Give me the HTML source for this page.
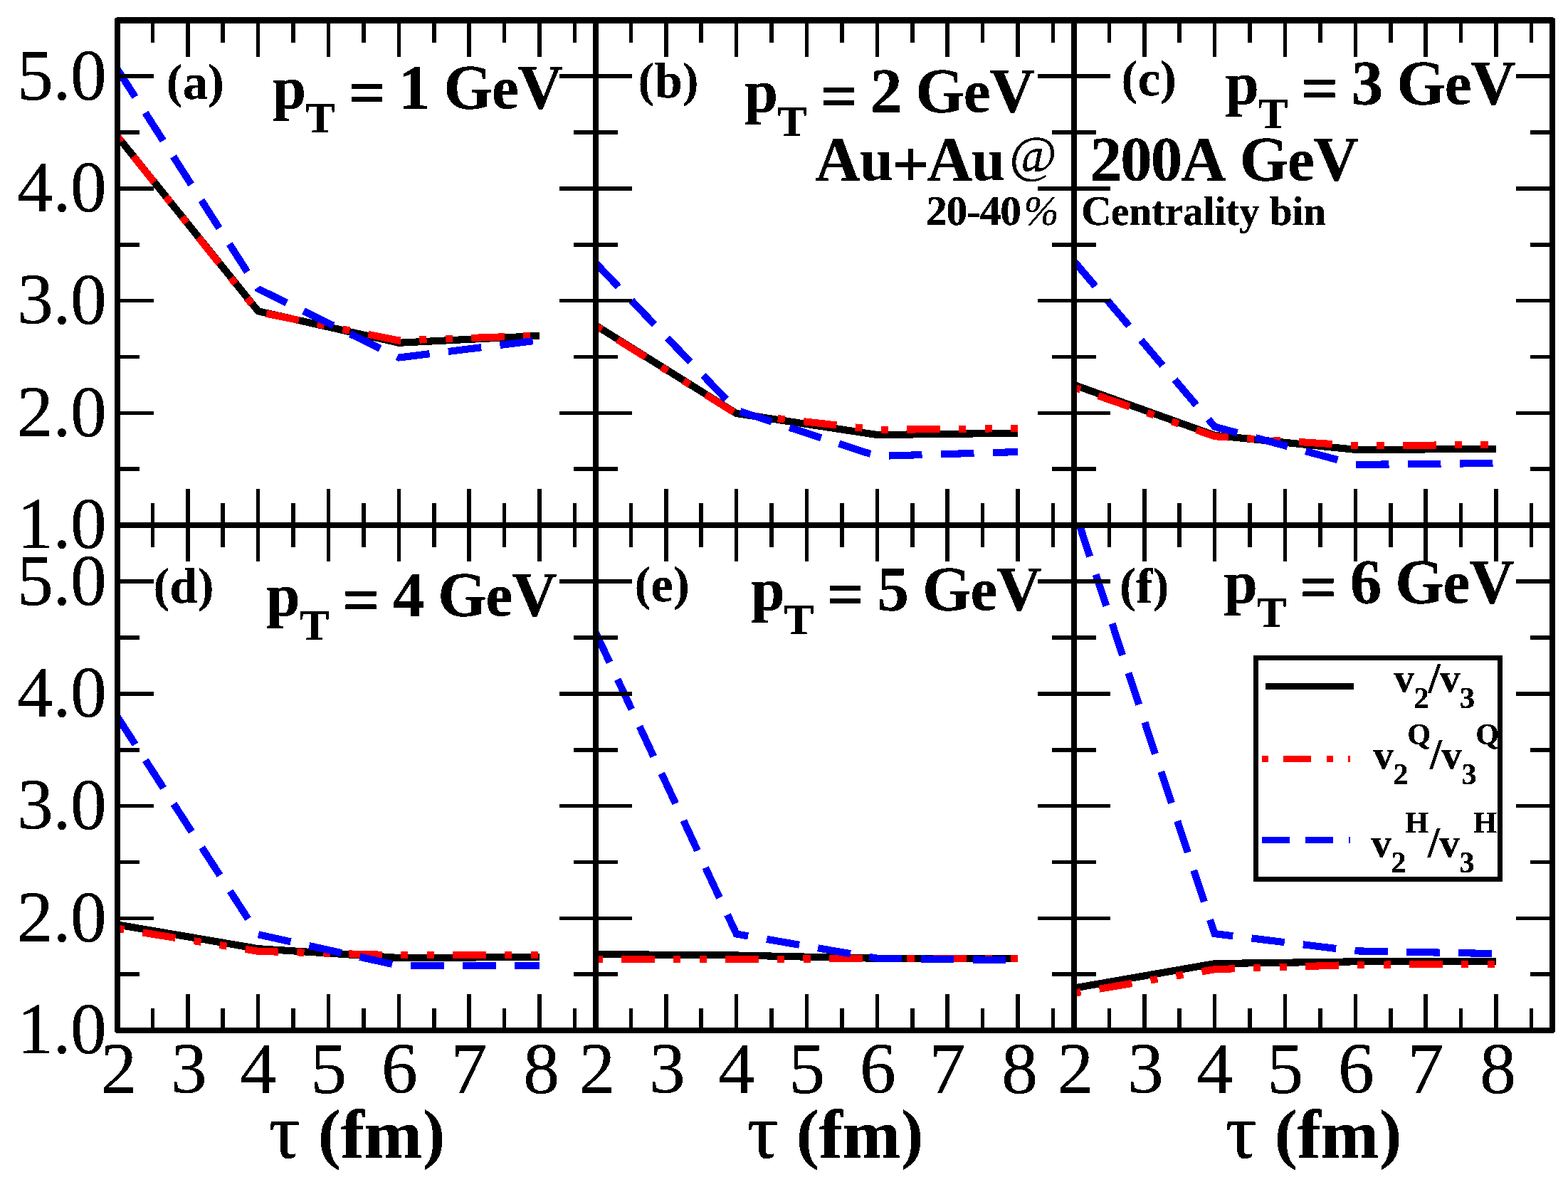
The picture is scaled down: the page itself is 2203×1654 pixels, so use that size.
<!DOCTYPE html>
<html lang="en"><head><meta charset="utf-8"><title>v2/v3 versus tau, Au+Au 200A GeV</title>
<style>html,body{margin:0;padding:0;background:#fff;}body{width:2203px;height:1654px;overflow:hidden;}svg{display:block;}line,polyline,rect{shape-rendering:crispEdges;}text{font-family:'Liberation Serif', 'DejaVu Serif', serif;fill:#000;white-space:pre;font-kerning:none;}</style>
</head><body>
<svg xmlns="http://www.w3.org/2000/svg" width="2203" height="1654" viewBox="0 0 2203 1654">
<rect x="0" y="0" width="2203" height="1654" fill="#fff"/>
<defs><filter id="crisp" filterUnits="userSpaceOnUse" x="0" y="0" width="2203" height="1654" color-interpolation-filters="sRGB"><feComponentTransfer><feFuncA type="discrete" tableValues="0 0 1 1 1 1 1 1"/></feComponentTransfer></filter></defs>
<g id="data-a" fill="none" stroke-linejoin="miter" stroke-linecap="butt" stroke-width="10.125">
<polyline points="165.00,191.57 362.66,437.27 560.32,481.74 757.98,471.96" stroke="#000000"/>
<polyline points="165.00,191.57 362.66,438.37 560.32,478.58 757.98,471.49" stroke="#ff0000" stroke-dasharray="10.125 26.375 46.625 26.375 10.125 26.375" stroke-dashoffset="0.5"/>
<polyline points="165.00,97.42 362.66,405.88 560.32,502.55 757.98,478.11" stroke="#0000ff" stroke-dasharray="46.625 26.375" stroke-dashoffset="0.5"/>
</g>
<g id="ticks-a" stroke-linecap="butt">
<line x1="214.41" y1="738.00" x2="214.41" y2="707.00" stroke="#000" stroke-width="5.55" />
<line x1="214.41" y1="28.50" x2="214.41" y2="59.50" stroke="#000" stroke-width="5.55" />
<line x1="263.83" y1="738.00" x2="263.83" y2="687.00" stroke="#000" stroke-width="5.55" />
<line x1="263.83" y1="28.50" x2="263.83" y2="79.50" stroke="#000" stroke-width="5.55" />
<line x1="313.25" y1="738.00" x2="313.25" y2="707.00" stroke="#000" stroke-width="5.55" />
<line x1="313.25" y1="28.50" x2="313.25" y2="59.50" stroke="#000" stroke-width="5.55" />
<line x1="362.66" y1="738.00" x2="362.66" y2="687.00" stroke="#000" stroke-width="5.55" />
<line x1="362.66" y1="28.50" x2="362.66" y2="79.50" stroke="#000" stroke-width="5.55" />
<line x1="412.07" y1="738.00" x2="412.07" y2="707.00" stroke="#000" stroke-width="5.55" />
<line x1="412.07" y1="28.50" x2="412.07" y2="59.50" stroke="#000" stroke-width="5.55" />
<line x1="461.49" y1="738.00" x2="461.49" y2="687.00" stroke="#000" stroke-width="5.55" />
<line x1="461.49" y1="28.50" x2="461.49" y2="79.50" stroke="#000" stroke-width="5.55" />
<line x1="510.90" y1="738.00" x2="510.90" y2="707.00" stroke="#000" stroke-width="5.55" />
<line x1="510.90" y1="28.50" x2="510.90" y2="59.50" stroke="#000" stroke-width="5.55" />
<line x1="560.32" y1="738.00" x2="560.32" y2="687.00" stroke="#000" stroke-width="5.55" />
<line x1="560.32" y1="28.50" x2="560.32" y2="79.50" stroke="#000" stroke-width="5.55" />
<line x1="609.74" y1="738.00" x2="609.74" y2="707.00" stroke="#000" stroke-width="5.55" />
<line x1="609.74" y1="28.50" x2="609.74" y2="59.50" stroke="#000" stroke-width="5.55" />
<line x1="659.15" y1="738.00" x2="659.15" y2="687.00" stroke="#000" stroke-width="5.55" />
<line x1="659.15" y1="28.50" x2="659.15" y2="79.50" stroke="#000" stroke-width="5.55" />
<line x1="708.56" y1="738.00" x2="708.56" y2="707.00" stroke="#000" stroke-width="5.55" />
<line x1="708.56" y1="28.50" x2="708.56" y2="59.50" stroke="#000" stroke-width="5.55" />
<line x1="757.98" y1="738.00" x2="757.98" y2="687.00" stroke="#000" stroke-width="5.55" />
<line x1="757.98" y1="28.50" x2="757.98" y2="79.50" stroke="#000" stroke-width="5.55" />
<line x1="807.39" y1="738.00" x2="807.39" y2="707.00" stroke="#000" stroke-width="5.55" />
<line x1="807.39" y1="28.50" x2="807.39" y2="59.50" stroke="#000" stroke-width="5.55" />
<line x1="165.00" y1="659.15" x2="196.00" y2="659.15" stroke="#000" stroke-width="5.55" />
<line x1="837.00" y1="659.15" x2="806.00" y2="659.15" stroke="#000" stroke-width="5.55" />
<line x1="165.00" y1="580.30" x2="216.00" y2="580.30" stroke="#000" stroke-width="5.55" />
<line x1="837.00" y1="580.30" x2="786.00" y2="580.30" stroke="#000" stroke-width="5.55" />
<line x1="165.00" y1="501.45" x2="196.00" y2="501.45" stroke="#000" stroke-width="5.55" />
<line x1="837.00" y1="501.45" x2="806.00" y2="501.45" stroke="#000" stroke-width="5.55" />
<line x1="165.00" y1="422.60" x2="216.00" y2="422.60" stroke="#000" stroke-width="5.55" />
<line x1="837.00" y1="422.60" x2="786.00" y2="422.60" stroke="#000" stroke-width="5.55" />
<line x1="165.00" y1="343.75" x2="196.00" y2="343.75" stroke="#000" stroke-width="5.55" />
<line x1="837.00" y1="343.75" x2="806.00" y2="343.75" stroke="#000" stroke-width="5.55" />
<line x1="165.00" y1="264.90" x2="216.00" y2="264.90" stroke="#000" stroke-width="5.55" />
<line x1="837.00" y1="264.90" x2="786.00" y2="264.90" stroke="#000" stroke-width="5.55" />
<line x1="165.00" y1="186.05" x2="196.00" y2="186.05" stroke="#000" stroke-width="5.55" />
<line x1="837.00" y1="186.05" x2="806.00" y2="186.05" stroke="#000" stroke-width="5.55" />
<line x1="165.00" y1="107.20" x2="216.00" y2="107.20" stroke="#000" stroke-width="5.55" />
<line x1="837.00" y1="107.20" x2="786.00" y2="107.20" stroke="#000" stroke-width="5.55" />
</g>
<g id="data-b" fill="none" stroke-linejoin="miter" stroke-linecap="butt" stroke-width="10.125">
<polyline points="837.00,457.29 1034.66,580.99 1232.32,611.05 1429.98,608.69" stroke="#000000"/>
<polyline points="837.00,458.16 1034.66,581.56 1232.32,603.95 1429.98,602.06" stroke="#ff0000" stroke-dasharray="10.125 26.375 46.625 26.375 10.125 26.375" stroke-dashoffset="0.5"/>
<polyline points="837.00,369.77 1034.66,576.40 1232.32,641.01 1429.98,635.02" stroke="#0000ff" stroke-dasharray="46.625 26.375" stroke-dashoffset="0.5"/>
</g>
<g id="ticks-b" stroke-linecap="butt">
<line x1="886.41" y1="738.00" x2="886.41" y2="707.00" stroke="#000" stroke-width="5.55" />
<line x1="886.41" y1="28.50" x2="886.41" y2="59.50" stroke="#000" stroke-width="5.55" />
<line x1="935.83" y1="738.00" x2="935.83" y2="687.00" stroke="#000" stroke-width="5.55" />
<line x1="935.83" y1="28.50" x2="935.83" y2="79.50" stroke="#000" stroke-width="5.55" />
<line x1="985.25" y1="738.00" x2="985.25" y2="707.00" stroke="#000" stroke-width="5.55" />
<line x1="985.25" y1="28.50" x2="985.25" y2="59.50" stroke="#000" stroke-width="5.55" />
<line x1="1034.66" y1="738.00" x2="1034.66" y2="687.00" stroke="#000" stroke-width="5.55" />
<line x1="1034.66" y1="28.50" x2="1034.66" y2="79.50" stroke="#000" stroke-width="5.55" />
<line x1="1084.08" y1="738.00" x2="1084.08" y2="707.00" stroke="#000" stroke-width="5.55" />
<line x1="1084.08" y1="28.50" x2="1084.08" y2="59.50" stroke="#000" stroke-width="5.55" />
<line x1="1133.49" y1="738.00" x2="1133.49" y2="687.00" stroke="#000" stroke-width="5.55" />
<line x1="1133.49" y1="28.50" x2="1133.49" y2="79.50" stroke="#000" stroke-width="5.55" />
<line x1="1182.90" y1="738.00" x2="1182.90" y2="707.00" stroke="#000" stroke-width="5.55" />
<line x1="1182.90" y1="28.50" x2="1182.90" y2="59.50" stroke="#000" stroke-width="5.55" />
<line x1="1232.32" y1="738.00" x2="1232.32" y2="687.00" stroke="#000" stroke-width="5.55" />
<line x1="1232.32" y1="28.50" x2="1232.32" y2="79.50" stroke="#000" stroke-width="5.55" />
<line x1="1281.74" y1="738.00" x2="1281.74" y2="707.00" stroke="#000" stroke-width="5.55" />
<line x1="1281.74" y1="28.50" x2="1281.74" y2="59.50" stroke="#000" stroke-width="5.55" />
<line x1="1331.15" y1="738.00" x2="1331.15" y2="687.00" stroke="#000" stroke-width="5.55" />
<line x1="1331.15" y1="28.50" x2="1331.15" y2="79.50" stroke="#000" stroke-width="5.55" />
<line x1="1380.57" y1="738.00" x2="1380.57" y2="707.00" stroke="#000" stroke-width="5.55" />
<line x1="1380.57" y1="28.50" x2="1380.57" y2="59.50" stroke="#000" stroke-width="5.55" />
<line x1="1429.98" y1="738.00" x2="1429.98" y2="687.00" stroke="#000" stroke-width="5.55" />
<line x1="1429.98" y1="28.50" x2="1429.98" y2="79.50" stroke="#000" stroke-width="5.55" />
<line x1="1479.39" y1="738.00" x2="1479.39" y2="707.00" stroke="#000" stroke-width="5.55" />
<line x1="1479.39" y1="28.50" x2="1479.39" y2="59.50" stroke="#000" stroke-width="5.55" />
<line x1="837.00" y1="659.15" x2="868.00" y2="659.15" stroke="#000" stroke-width="5.55" />
<line x1="1509.00" y1="659.15" x2="1478.00" y2="659.15" stroke="#000" stroke-width="5.55" />
<line x1="837.00" y1="580.30" x2="888.00" y2="580.30" stroke="#000" stroke-width="5.55" />
<line x1="1509.00" y1="580.30" x2="1458.00" y2="580.30" stroke="#000" stroke-width="5.55" />
<line x1="837.00" y1="501.45" x2="868.00" y2="501.45" stroke="#000" stroke-width="5.55" />
<line x1="1509.00" y1="501.45" x2="1478.00" y2="501.45" stroke="#000" stroke-width="5.55" />
<line x1="837.00" y1="422.60" x2="888.00" y2="422.60" stroke="#000" stroke-width="5.55" />
<line x1="1509.00" y1="422.60" x2="1458.00" y2="422.60" stroke="#000" stroke-width="5.55" />
<line x1="837.00" y1="343.75" x2="868.00" y2="343.75" stroke="#000" stroke-width="5.55" />
<line x1="1509.00" y1="343.75" x2="1478.00" y2="343.75" stroke="#000" stroke-width="5.55" />
<line x1="837.00" y1="264.90" x2="888.00" y2="264.90" stroke="#000" stroke-width="5.55" />
<line x1="1509.00" y1="264.90" x2="1458.00" y2="264.90" stroke="#000" stroke-width="5.55" />
<line x1="837.00" y1="186.05" x2="868.00" y2="186.05" stroke="#000" stroke-width="5.55" />
<line x1="1509.00" y1="186.05" x2="1478.00" y2="186.05" stroke="#000" stroke-width="5.55" />
<line x1="837.00" y1="107.20" x2="888.00" y2="107.20" stroke="#000" stroke-width="5.55" />
<line x1="1509.00" y1="107.20" x2="1458.00" y2="107.20" stroke="#000" stroke-width="5.55" />
</g>
<g id="data-c" fill="none" stroke-linejoin="miter" stroke-linecap="butt" stroke-width="10.125">
<polyline points="1509.00,540.88 1706.66,611.84 1904.32,631.87 2101.98,631.00" stroke="#000000"/>
<polyline points="1509.00,544.34 1706.66,613.20 1904.32,626.19 2101.98,625.09" stroke="#ff0000" stroke-dasharray="10.125 26.375 46.625 26.375 10.125 26.375" stroke-dashoffset="0.5"/>
<polyline points="1509.00,367.09 1706.66,599.70 1904.32,652.91 2101.98,651.00" stroke="#0000ff" stroke-dasharray="46.625 26.375" stroke-dashoffset="0.5"/>
</g>
<g id="ticks-c" stroke-linecap="butt">
<line x1="1558.41" y1="738.00" x2="1558.41" y2="707.00" stroke="#000" stroke-width="5.55" />
<line x1="1558.41" y1="28.50" x2="1558.41" y2="59.50" stroke="#000" stroke-width="5.55" />
<line x1="1607.83" y1="738.00" x2="1607.83" y2="687.00" stroke="#000" stroke-width="5.55" />
<line x1="1607.83" y1="28.50" x2="1607.83" y2="79.50" stroke="#000" stroke-width="5.55" />
<line x1="1657.24" y1="738.00" x2="1657.24" y2="707.00" stroke="#000" stroke-width="5.55" />
<line x1="1657.24" y1="28.50" x2="1657.24" y2="59.50" stroke="#000" stroke-width="5.55" />
<line x1="1706.66" y1="738.00" x2="1706.66" y2="687.00" stroke="#000" stroke-width="5.55" />
<line x1="1706.66" y1="28.50" x2="1706.66" y2="79.50" stroke="#000" stroke-width="5.55" />
<line x1="1756.08" y1="738.00" x2="1756.08" y2="707.00" stroke="#000" stroke-width="5.55" />
<line x1="1756.08" y1="28.50" x2="1756.08" y2="59.50" stroke="#000" stroke-width="5.55" />
<line x1="1805.49" y1="738.00" x2="1805.49" y2="687.00" stroke="#000" stroke-width="5.55" />
<line x1="1805.49" y1="28.50" x2="1805.49" y2="79.50" stroke="#000" stroke-width="5.55" />
<line x1="1854.90" y1="738.00" x2="1854.90" y2="707.00" stroke="#000" stroke-width="5.55" />
<line x1="1854.90" y1="28.50" x2="1854.90" y2="59.50" stroke="#000" stroke-width="5.55" />
<line x1="1904.32" y1="738.00" x2="1904.32" y2="687.00" stroke="#000" stroke-width="5.55" />
<line x1="1904.32" y1="28.50" x2="1904.32" y2="79.50" stroke="#000" stroke-width="5.55" />
<line x1="1953.74" y1="738.00" x2="1953.74" y2="707.00" stroke="#000" stroke-width="5.55" />
<line x1="1953.74" y1="28.50" x2="1953.74" y2="59.50" stroke="#000" stroke-width="5.55" />
<line x1="2003.15" y1="738.00" x2="2003.15" y2="687.00" stroke="#000" stroke-width="5.55" />
<line x1="2003.15" y1="28.50" x2="2003.15" y2="79.50" stroke="#000" stroke-width="5.55" />
<line x1="2052.57" y1="738.00" x2="2052.57" y2="707.00" stroke="#000" stroke-width="5.55" />
<line x1="2052.57" y1="28.50" x2="2052.57" y2="59.50" stroke="#000" stroke-width="5.55" />
<line x1="2101.98" y1="738.00" x2="2101.98" y2="687.00" stroke="#000" stroke-width="5.55" />
<line x1="2101.98" y1="28.50" x2="2101.98" y2="79.50" stroke="#000" stroke-width="5.55" />
<line x1="2151.39" y1="738.00" x2="2151.39" y2="707.00" stroke="#000" stroke-width="5.55" />
<line x1="2151.39" y1="28.50" x2="2151.39" y2="59.50" stroke="#000" stroke-width="5.55" />
<line x1="1509.00" y1="659.15" x2="1540.00" y2="659.15" stroke="#000" stroke-width="5.55" />
<line x1="2181.00" y1="659.15" x2="2150.00" y2="659.15" stroke="#000" stroke-width="5.55" />
<line x1="1509.00" y1="580.30" x2="1560.00" y2="580.30" stroke="#000" stroke-width="5.55" />
<line x1="2181.00" y1="580.30" x2="2130.00" y2="580.30" stroke="#000" stroke-width="5.55" />
<line x1="1509.00" y1="501.45" x2="1540.00" y2="501.45" stroke="#000" stroke-width="5.55" />
<line x1="2181.00" y1="501.45" x2="2150.00" y2="501.45" stroke="#000" stroke-width="5.55" />
<line x1="1509.00" y1="422.60" x2="1560.00" y2="422.60" stroke="#000" stroke-width="5.55" />
<line x1="2181.00" y1="422.60" x2="2130.00" y2="422.60" stroke="#000" stroke-width="5.55" />
<line x1="1509.00" y1="343.75" x2="1540.00" y2="343.75" stroke="#000" stroke-width="5.55" />
<line x1="2181.00" y1="343.75" x2="2150.00" y2="343.75" stroke="#000" stroke-width="5.55" />
<line x1="1509.00" y1="264.90" x2="1560.00" y2="264.90" stroke="#000" stroke-width="5.55" />
<line x1="2181.00" y1="264.90" x2="2130.00" y2="264.90" stroke="#000" stroke-width="5.55" />
<line x1="1509.00" y1="186.05" x2="1540.00" y2="186.05" stroke="#000" stroke-width="5.55" />
<line x1="2181.00" y1="186.05" x2="2150.00" y2="186.05" stroke="#000" stroke-width="5.55" />
<line x1="1509.00" y1="107.20" x2="1560.00" y2="107.20" stroke="#000" stroke-width="5.55" />
<line x1="2181.00" y1="107.20" x2="2130.00" y2="107.20" stroke="#000" stroke-width="5.55" />
</g>
<g id="data-d" fill="none" stroke-linejoin="miter" stroke-linecap="butt" stroke-width="10.125">
<polyline points="165.00,1299.45 362.66,1333.19 560.32,1345.97 757.98,1345.01" stroke="#000000"/>
<polyline points="165.00,1304.73 362.66,1336.82 560.32,1342.42 757.98,1342.03" stroke="#ff0000" stroke-dasharray="10.125 26.375 46.625 26.375 10.125 26.375" stroke-dashoffset="0.5"/>
<polyline points="165.00,1007.39 362.66,1313.25 560.32,1356.90 757.98,1357.32" stroke="#0000ff" stroke-dasharray="46.625 26.375" stroke-dashoffset="0.5"/>
</g>
<g id="ticks-d" stroke-linecap="butt">
<line x1="214.41" y1="1448.00" x2="214.41" y2="1417.00" stroke="#000" stroke-width="5.55" />
<line x1="214.41" y1="738.00" x2="214.41" y2="769.00" stroke="#000" stroke-width="5.55" />
<line x1="263.83" y1="1448.00" x2="263.83" y2="1397.00" stroke="#000" stroke-width="5.55" />
<line x1="263.83" y1="738.00" x2="263.83" y2="789.00" stroke="#000" stroke-width="5.55" />
<line x1="313.25" y1="1448.00" x2="313.25" y2="1417.00" stroke="#000" stroke-width="5.55" />
<line x1="313.25" y1="738.00" x2="313.25" y2="769.00" stroke="#000" stroke-width="5.55" />
<line x1="362.66" y1="1448.00" x2="362.66" y2="1397.00" stroke="#000" stroke-width="5.55" />
<line x1="362.66" y1="738.00" x2="362.66" y2="789.00" stroke="#000" stroke-width="5.55" />
<line x1="412.07" y1="1448.00" x2="412.07" y2="1417.00" stroke="#000" stroke-width="5.55" />
<line x1="412.07" y1="738.00" x2="412.07" y2="769.00" stroke="#000" stroke-width="5.55" />
<line x1="461.49" y1="1448.00" x2="461.49" y2="1397.00" stroke="#000" stroke-width="5.55" />
<line x1="461.49" y1="738.00" x2="461.49" y2="789.00" stroke="#000" stroke-width="5.55" />
<line x1="510.90" y1="1448.00" x2="510.90" y2="1417.00" stroke="#000" stroke-width="5.55" />
<line x1="510.90" y1="738.00" x2="510.90" y2="769.00" stroke="#000" stroke-width="5.55" />
<line x1="560.32" y1="1448.00" x2="560.32" y2="1397.00" stroke="#000" stroke-width="5.55" />
<line x1="560.32" y1="738.00" x2="560.32" y2="789.00" stroke="#000" stroke-width="5.55" />
<line x1="609.74" y1="1448.00" x2="609.74" y2="1417.00" stroke="#000" stroke-width="5.55" />
<line x1="609.74" y1="738.00" x2="609.74" y2="769.00" stroke="#000" stroke-width="5.55" />
<line x1="659.15" y1="1448.00" x2="659.15" y2="1397.00" stroke="#000" stroke-width="5.55" />
<line x1="659.15" y1="738.00" x2="659.15" y2="789.00" stroke="#000" stroke-width="5.55" />
<line x1="708.56" y1="1448.00" x2="708.56" y2="1417.00" stroke="#000" stroke-width="5.55" />
<line x1="708.56" y1="738.00" x2="708.56" y2="769.00" stroke="#000" stroke-width="5.55" />
<line x1="757.98" y1="1448.00" x2="757.98" y2="1397.00" stroke="#000" stroke-width="5.55" />
<line x1="757.98" y1="738.00" x2="757.98" y2="789.00" stroke="#000" stroke-width="5.55" />
<line x1="807.39" y1="1448.00" x2="807.39" y2="1417.00" stroke="#000" stroke-width="5.55" />
<line x1="807.39" y1="738.00" x2="807.39" y2="769.00" stroke="#000" stroke-width="5.55" />
<line x1="165.00" y1="1369.15" x2="196.00" y2="1369.15" stroke="#000" stroke-width="5.55" />
<line x1="837.00" y1="1369.15" x2="806.00" y2="1369.15" stroke="#000" stroke-width="5.55" />
<line x1="165.00" y1="1290.30" x2="216.00" y2="1290.30" stroke="#000" stroke-width="5.55" />
<line x1="837.00" y1="1290.30" x2="786.00" y2="1290.30" stroke="#000" stroke-width="5.55" />
<line x1="165.00" y1="1211.45" x2="196.00" y2="1211.45" stroke="#000" stroke-width="5.55" />
<line x1="837.00" y1="1211.45" x2="806.00" y2="1211.45" stroke="#000" stroke-width="5.55" />
<line x1="165.00" y1="1132.60" x2="216.00" y2="1132.60" stroke="#000" stroke-width="5.55" />
<line x1="837.00" y1="1132.60" x2="786.00" y2="1132.60" stroke="#000" stroke-width="5.55" />
<line x1="165.00" y1="1053.75" x2="196.00" y2="1053.75" stroke="#000" stroke-width="5.55" />
<line x1="837.00" y1="1053.75" x2="806.00" y2="1053.75" stroke="#000" stroke-width="5.55" />
<line x1="165.00" y1="974.90" x2="216.00" y2="974.90" stroke="#000" stroke-width="5.55" />
<line x1="837.00" y1="974.90" x2="786.00" y2="974.90" stroke="#000" stroke-width="5.55" />
<line x1="165.00" y1="896.05" x2="196.00" y2="896.05" stroke="#000" stroke-width="5.55" />
<line x1="837.00" y1="896.05" x2="806.00" y2="896.05" stroke="#000" stroke-width="5.55" />
<line x1="165.00" y1="817.20" x2="216.00" y2="817.20" stroke="#000" stroke-width="5.55" />
<line x1="837.00" y1="817.20" x2="786.00" y2="817.20" stroke="#000" stroke-width="5.55" />
</g>
<g id="data-e" fill="none" stroke-linejoin="miter" stroke-linecap="butt" stroke-width="10.125">
<polyline points="837.00,1341.00 1034.66,1342.50 1232.32,1346.80 1429.98,1346.80" stroke="#000000"/>
<polyline points="837.00,1347.86 1034.66,1347.86 1232.32,1347.07 1429.98,1346.99" stroke="#ff0000" stroke-dasharray="10.125 26.375 46.625 26.375 10.125 26.375" stroke-dashoffset="0.5"/>
<polyline points="837.00,888.95 1034.66,1312.50 1232.32,1346.68 1429.98,1349.28" stroke="#0000ff" stroke-dasharray="46.625 26.375" stroke-dashoffset="0.5"/>
</g>
<g id="ticks-e" stroke-linecap="butt">
<line x1="886.41" y1="1448.00" x2="886.41" y2="1417.00" stroke="#000" stroke-width="5.55" />
<line x1="886.41" y1="738.00" x2="886.41" y2="769.00" stroke="#000" stroke-width="5.55" />
<line x1="935.83" y1="1448.00" x2="935.83" y2="1397.00" stroke="#000" stroke-width="5.55" />
<line x1="935.83" y1="738.00" x2="935.83" y2="789.00" stroke="#000" stroke-width="5.55" />
<line x1="985.25" y1="1448.00" x2="985.25" y2="1417.00" stroke="#000" stroke-width="5.55" />
<line x1="985.25" y1="738.00" x2="985.25" y2="769.00" stroke="#000" stroke-width="5.55" />
<line x1="1034.66" y1="1448.00" x2="1034.66" y2="1397.00" stroke="#000" stroke-width="5.55" />
<line x1="1034.66" y1="738.00" x2="1034.66" y2="789.00" stroke="#000" stroke-width="5.55" />
<line x1="1084.08" y1="1448.00" x2="1084.08" y2="1417.00" stroke="#000" stroke-width="5.55" />
<line x1="1084.08" y1="738.00" x2="1084.08" y2="769.00" stroke="#000" stroke-width="5.55" />
<line x1="1133.49" y1="1448.00" x2="1133.49" y2="1397.00" stroke="#000" stroke-width="5.55" />
<line x1="1133.49" y1="738.00" x2="1133.49" y2="789.00" stroke="#000" stroke-width="5.55" />
<line x1="1182.90" y1="1448.00" x2="1182.90" y2="1417.00" stroke="#000" stroke-width="5.55" />
<line x1="1182.90" y1="738.00" x2="1182.90" y2="769.00" stroke="#000" stroke-width="5.55" />
<line x1="1232.32" y1="1448.00" x2="1232.32" y2="1397.00" stroke="#000" stroke-width="5.55" />
<line x1="1232.32" y1="738.00" x2="1232.32" y2="789.00" stroke="#000" stroke-width="5.55" />
<line x1="1281.74" y1="1448.00" x2="1281.74" y2="1417.00" stroke="#000" stroke-width="5.55" />
<line x1="1281.74" y1="738.00" x2="1281.74" y2="769.00" stroke="#000" stroke-width="5.55" />
<line x1="1331.15" y1="1448.00" x2="1331.15" y2="1397.00" stroke="#000" stroke-width="5.55" />
<line x1="1331.15" y1="738.00" x2="1331.15" y2="789.00" stroke="#000" stroke-width="5.55" />
<line x1="1380.57" y1="1448.00" x2="1380.57" y2="1417.00" stroke="#000" stroke-width="5.55" />
<line x1="1380.57" y1="738.00" x2="1380.57" y2="769.00" stroke="#000" stroke-width="5.55" />
<line x1="1429.98" y1="1448.00" x2="1429.98" y2="1397.00" stroke="#000" stroke-width="5.55" />
<line x1="1429.98" y1="738.00" x2="1429.98" y2="789.00" stroke="#000" stroke-width="5.55" />
<line x1="1479.39" y1="1448.00" x2="1479.39" y2="1417.00" stroke="#000" stroke-width="5.55" />
<line x1="1479.39" y1="738.00" x2="1479.39" y2="769.00" stroke="#000" stroke-width="5.55" />
<line x1="837.00" y1="1369.15" x2="868.00" y2="1369.15" stroke="#000" stroke-width="5.55" />
<line x1="1509.00" y1="1369.15" x2="1478.00" y2="1369.15" stroke="#000" stroke-width="5.55" />
<line x1="837.00" y1="1290.30" x2="888.00" y2="1290.30" stroke="#000" stroke-width="5.55" />
<line x1="1509.00" y1="1290.30" x2="1458.00" y2="1290.30" stroke="#000" stroke-width="5.55" />
<line x1="837.00" y1="1211.45" x2="868.00" y2="1211.45" stroke="#000" stroke-width="5.55" />
<line x1="1509.00" y1="1211.45" x2="1478.00" y2="1211.45" stroke="#000" stroke-width="5.55" />
<line x1="837.00" y1="1132.60" x2="888.00" y2="1132.60" stroke="#000" stroke-width="5.55" />
<line x1="1509.00" y1="1132.60" x2="1458.00" y2="1132.60" stroke="#000" stroke-width="5.55" />
<line x1="837.00" y1="1053.75" x2="868.00" y2="1053.75" stroke="#000" stroke-width="5.55" />
<line x1="1509.00" y1="1053.75" x2="1478.00" y2="1053.75" stroke="#000" stroke-width="5.55" />
<line x1="837.00" y1="974.90" x2="888.00" y2="974.90" stroke="#000" stroke-width="5.55" />
<line x1="1509.00" y1="974.90" x2="1458.00" y2="974.90" stroke="#000" stroke-width="5.55" />
<line x1="837.00" y1="896.05" x2="868.00" y2="896.05" stroke="#000" stroke-width="5.55" />
<line x1="1509.00" y1="896.05" x2="1478.00" y2="896.05" stroke="#000" stroke-width="5.55" />
<line x1="837.00" y1="817.20" x2="888.00" y2="817.20" stroke="#000" stroke-width="5.55" />
<line x1="1509.00" y1="817.20" x2="1458.00" y2="817.20" stroke="#000" stroke-width="5.55" />
</g>
<g id="data-f" fill="none" stroke-linejoin="miter" stroke-linecap="butt" stroke-width="10.125">
<polyline points="1509.00,1388.55 1706.66,1354.11 1904.32,1351.33 2101.98,1350.57" stroke="#000000"/>
<polyline points="1509.00,1395.72 1706.66,1362.21 1904.32,1355.75 2101.98,1354.91" stroke="#ff0000" stroke-dasharray="10.125 26.375 46.625 26.375 10.125 26.375" stroke-dashoffset="0.5"/>
<polyline points="1516.83,738.35 1706.66,1312.11 1904.32,1336.35 2101.98,1340.13" stroke="#0000ff" stroke-dasharray="46.625 26.375" stroke-dashoffset="0.5"/>
</g>
<g id="ticks-f" stroke-linecap="butt">
<line x1="1558.41" y1="1448.00" x2="1558.41" y2="1417.00" stroke="#000" stroke-width="5.55" />
<line x1="1558.41" y1="738.00" x2="1558.41" y2="769.00" stroke="#000" stroke-width="5.55" />
<line x1="1607.83" y1="1448.00" x2="1607.83" y2="1397.00" stroke="#000" stroke-width="5.55" />
<line x1="1607.83" y1="738.00" x2="1607.83" y2="789.00" stroke="#000" stroke-width="5.55" />
<line x1="1657.24" y1="1448.00" x2="1657.24" y2="1417.00" stroke="#000" stroke-width="5.55" />
<line x1="1657.24" y1="738.00" x2="1657.24" y2="769.00" stroke="#000" stroke-width="5.55" />
<line x1="1706.66" y1="1448.00" x2="1706.66" y2="1397.00" stroke="#000" stroke-width="5.55" />
<line x1="1706.66" y1="738.00" x2="1706.66" y2="789.00" stroke="#000" stroke-width="5.55" />
<line x1="1756.08" y1="1448.00" x2="1756.08" y2="1417.00" stroke="#000" stroke-width="5.55" />
<line x1="1756.08" y1="738.00" x2="1756.08" y2="769.00" stroke="#000" stroke-width="5.55" />
<line x1="1805.49" y1="1448.00" x2="1805.49" y2="1397.00" stroke="#000" stroke-width="5.55" />
<line x1="1805.49" y1="738.00" x2="1805.49" y2="789.00" stroke="#000" stroke-width="5.55" />
<line x1="1854.90" y1="1448.00" x2="1854.90" y2="1417.00" stroke="#000" stroke-width="5.55" />
<line x1="1854.90" y1="738.00" x2="1854.90" y2="769.00" stroke="#000" stroke-width="5.55" />
<line x1="1904.32" y1="1448.00" x2="1904.32" y2="1397.00" stroke="#000" stroke-width="5.55" />
<line x1="1904.32" y1="738.00" x2="1904.32" y2="789.00" stroke="#000" stroke-width="5.55" />
<line x1="1953.74" y1="1448.00" x2="1953.74" y2="1417.00" stroke="#000" stroke-width="5.55" />
<line x1="1953.74" y1="738.00" x2="1953.74" y2="769.00" stroke="#000" stroke-width="5.55" />
<line x1="2003.15" y1="1448.00" x2="2003.15" y2="1397.00" stroke="#000" stroke-width="5.55" />
<line x1="2003.15" y1="738.00" x2="2003.15" y2="789.00" stroke="#000" stroke-width="5.55" />
<line x1="2052.57" y1="1448.00" x2="2052.57" y2="1417.00" stroke="#000" stroke-width="5.55" />
<line x1="2052.57" y1="738.00" x2="2052.57" y2="769.00" stroke="#000" stroke-width="5.55" />
<line x1="2101.98" y1="1448.00" x2="2101.98" y2="1397.00" stroke="#000" stroke-width="5.55" />
<line x1="2101.98" y1="738.00" x2="2101.98" y2="789.00" stroke="#000" stroke-width="5.55" />
<line x1="2151.39" y1="1448.00" x2="2151.39" y2="1417.00" stroke="#000" stroke-width="5.55" />
<line x1="2151.39" y1="738.00" x2="2151.39" y2="769.00" stroke="#000" stroke-width="5.55" />
<line x1="1509.00" y1="1369.15" x2="1540.00" y2="1369.15" stroke="#000" stroke-width="5.55" />
<line x1="2181.00" y1="1369.15" x2="2150.00" y2="1369.15" stroke="#000" stroke-width="5.55" />
<line x1="1509.00" y1="1290.30" x2="1560.00" y2="1290.30" stroke="#000" stroke-width="5.55" />
<line x1="2181.00" y1="1290.30" x2="2130.00" y2="1290.30" stroke="#000" stroke-width="5.55" />
<line x1="1509.00" y1="1211.45" x2="1540.00" y2="1211.45" stroke="#000" stroke-width="5.55" />
<line x1="2181.00" y1="1211.45" x2="2150.00" y2="1211.45" stroke="#000" stroke-width="5.55" />
<line x1="1509.00" y1="1132.60" x2="1560.00" y2="1132.60" stroke="#000" stroke-width="5.55" />
<line x1="2181.00" y1="1132.60" x2="2130.00" y2="1132.60" stroke="#000" stroke-width="5.55" />
<line x1="1509.00" y1="1053.75" x2="1540.00" y2="1053.75" stroke="#000" stroke-width="5.55" />
<line x1="2181.00" y1="1053.75" x2="2150.00" y2="1053.75" stroke="#000" stroke-width="5.55" />
<line x1="1509.00" y1="974.90" x2="1560.00" y2="974.90" stroke="#000" stroke-width="5.55" />
<line x1="2181.00" y1="974.90" x2="2130.00" y2="974.90" stroke="#000" stroke-width="5.55" />
<line x1="1509.00" y1="896.05" x2="1540.00" y2="896.05" stroke="#000" stroke-width="5.55" />
<line x1="2181.00" y1="896.05" x2="2150.00" y2="896.05" stroke="#000" stroke-width="5.55" />
<line x1="1509.00" y1="817.20" x2="1560.00" y2="817.20" stroke="#000" stroke-width="5.55" />
<line x1="2181.00" y1="817.20" x2="2130.00" y2="817.20" stroke="#000" stroke-width="5.55" />
</g>
<g id="frame" fill="none" stroke="#000" stroke-width="8.3" stroke-linejoin="round">
<rect x="165.0" y="28.5" width="2016.0" height="1419.5"/>
<line x1="165.0" y1="738.0" x2="2181.0" y2="738.0"/>
<line x1="837.0" y1="28.5" x2="837.0" y2="1448.0"/>
<line x1="1509.0" y1="28.5" x2="1509.0" y2="1448.0"/>
</g>
<g id="ylabels" filter="url(#crisp)">
<text id="t1" font-weight="normal" font-style="normal" font-size="100.00"><tspan x="24.03" y="139.60" font-size="101.50">5</tspan><tspan x="74.40" y="139.60" font-size="100.00">.</tspan><tspan x="99.03" y="139.60" font-size="101.50">0</tspan></text>
<text id="t2" font-weight="normal" font-style="normal" font-size="100.00"><tspan x="24.03" y="297.30" font-size="101.50">4</tspan><tspan x="74.40" y="297.30" font-size="100.00">.</tspan><tspan x="99.03" y="297.30" font-size="101.50">0</tspan></text>
<text id="t3" font-weight="normal" font-style="normal" font-size="100.00"><tspan x="24.03" y="455.00" font-size="101.50">3</tspan><tspan x="74.40" y="455.00" font-size="100.00">.</tspan><tspan x="99.03" y="455.00" font-size="101.50">0</tspan></text>
<text id="t4" font-weight="normal" font-style="normal" font-size="100.00"><tspan x="24.03" y="612.70" font-size="101.50">2</tspan><tspan x="74.40" y="612.70" font-size="100.00">.</tspan><tspan x="99.03" y="612.70" font-size="101.50">0</tspan></text>
<text id="t5" font-weight="normal" font-style="normal" font-size="100.00"><tspan x="24.03" y="770.40" font-size="101.50">1</tspan><tspan x="74.40" y="770.40" font-size="100.00">.</tspan><tspan x="99.03" y="770.40" font-size="101.50">0</tspan></text>
<text id="t6" font-weight="normal" font-style="normal" font-size="100.00"><tspan x="24.03" y="849.60" font-size="101.50">5</tspan><tspan x="74.40" y="849.60" font-size="100.00">.</tspan><tspan x="99.03" y="849.60" font-size="101.50">0</tspan></text>
<text id="t7" font-weight="normal" font-style="normal" font-size="100.00"><tspan x="24.03" y="1007.30" font-size="101.50">4</tspan><tspan x="74.40" y="1007.30" font-size="100.00">.</tspan><tspan x="99.03" y="1007.30" font-size="101.50">0</tspan></text>
<text id="t8" font-weight="normal" font-style="normal" font-size="100.00"><tspan x="24.03" y="1165.00" font-size="101.50">3</tspan><tspan x="74.40" y="1165.00" font-size="100.00">.</tspan><tspan x="99.03" y="1165.00" font-size="101.50">0</tspan></text>
<text id="t9" font-weight="normal" font-style="normal" font-size="100.00"><tspan x="24.03" y="1322.70" font-size="101.50">2</tspan><tspan x="74.40" y="1322.70" font-size="100.00">.</tspan><tspan x="99.03" y="1322.70" font-size="101.50">0</tspan></text>
<text id="t10" font-weight="normal" font-style="normal" font-size="100.00"><tspan x="24.03" y="1480.40" font-size="101.50">1</tspan><tspan x="74.40" y="1480.40" font-size="100.00">.</tspan><tspan x="99.03" y="1480.40" font-size="101.50">0</tspan></text>
</g>
<g id="xlabels" filter="url(#crisp)">
<text id="t11" font-weight="normal" font-style="normal" font-size="100.00"><tspan x="141.62" y="1535.60" font-size="101.50">2</tspan></text>
<text id="t12" font-weight="normal" font-style="normal" font-size="100.00"><tspan x="239.95" y="1535.60" font-size="101.50">3</tspan></text>
<text id="t13" font-weight="normal" font-style="normal" font-size="100.00"><tspan x="337.28" y="1535.60" font-size="101.50">4</tspan></text>
<text id="t14" font-weight="normal" font-style="normal" font-size="100.00"><tspan x="436.42" y="1535.60" font-size="101.50">5</tspan></text>
<text id="t15" font-weight="normal" font-style="normal" font-size="100.00"><tspan x="535.94" y="1535.60" font-size="101.50">6</tspan></text>
<text id="t16" font-weight="normal" font-style="normal" font-size="100.00"><tspan x="633.48" y="1535.60" font-size="101.50">7</tspan></text>
<text id="t17" font-weight="normal" font-style="normal" font-size="100.00"><tspan x="735.31" y="1535.60" font-size="101.50">8</tspan></text>
<text id="t18" font-weight="normal" font-style="normal" font-size="100.00"><tspan x="813.62" y="1535.60" font-size="101.50">2</tspan></text>
<text id="t19" font-weight="normal" font-style="normal" font-size="100.00"><tspan x="911.96" y="1535.60" font-size="101.50">3</tspan></text>
<text id="t20" font-weight="normal" font-style="normal" font-size="100.00"><tspan x="1009.29" y="1535.60" font-size="101.50">4</tspan></text>
<text id="t21" font-weight="normal" font-style="normal" font-size="100.00"><tspan x="1108.41" y="1535.60" font-size="101.50">5</tspan></text>
<text id="t22" font-weight="normal" font-style="normal" font-size="100.00"><tspan x="1207.94" y="1535.60" font-size="101.50">6</tspan></text>
<text id="t23" font-weight="normal" font-style="normal" font-size="100.00"><tspan x="1305.48" y="1535.60" font-size="101.50">7</tspan></text>
<text id="t24" font-weight="normal" font-style="normal" font-size="100.00"><tspan x="1407.31" y="1535.60" font-size="101.50">8</tspan></text>
<text id="t25" font-weight="normal" font-style="normal" font-size="100.00"><tspan x="1485.62" y="1535.60" font-size="101.50">2</tspan></text>
<text id="t26" font-weight="normal" font-style="normal" font-size="100.00"><tspan x="1583.95" y="1535.60" font-size="101.50">3</tspan></text>
<text id="t27" font-weight="normal" font-style="normal" font-size="100.00"><tspan x="1681.29" y="1535.60" font-size="101.50">4</tspan></text>
<text id="t28" font-weight="normal" font-style="normal" font-size="100.00"><tspan x="1780.41" y="1535.60" font-size="101.50">5</tspan></text>
<text id="t29" font-weight="normal" font-style="normal" font-size="100.00"><tspan x="1879.94" y="1535.60" font-size="101.50">6</tspan></text>
<text id="t30" font-weight="normal" font-style="normal" font-size="100.00"><tspan x="1977.48" y="1535.60" font-size="101.50">7</tspan></text>
<text id="t31" font-weight="normal" font-style="normal" font-size="100.00"><tspan x="2079.30" y="1535.60" font-size="101.50">8</tspan></text>
</g>
<g id="axislabels" filter="url(#crisp)">
<text id="t32" font-weight="bold" font-style="normal" font-size="110.00"><tspan x="377.60" y="1627.00" font-size="110.00" font-weight="normal" font-style="normal">τ</tspan> <tspan x="446.95" y="1623.67" font-size="94.08">(</tspan><tspan x="478.93" y="1627.00" font-size="98.00">f</tspan><tspan x="511.57" y="1627.00" font-size="98.00">m</tspan><tspan x="593.86" y="1623.67" font-size="94.08">)</tspan></text>
<text id="t33" font-weight="bold" font-style="normal" font-size="110.00"><tspan x="1049.60" y="1627.00" font-size="110.00" font-weight="normal" font-style="normal">τ</tspan> <tspan x="1118.95" y="1623.67" font-size="94.08">(</tspan><tspan x="1150.93" y="1627.00" font-size="98.00">f</tspan><tspan x="1183.57" y="1627.00" font-size="98.00">m</tspan><tspan x="1265.86" y="1623.67" font-size="94.08">)</tspan></text>
<text id="t34" font-weight="bold" font-style="normal" font-size="110.00"><tspan x="1721.60" y="1627.00" font-size="110.00" font-weight="normal" font-style="normal">τ</tspan> <tspan x="1790.95" y="1623.67" font-size="94.08">(</tspan><tspan x="1822.93" y="1627.00" font-size="98.00">f</tspan><tspan x="1855.57" y="1627.00" font-size="98.00">m</tspan><tspan x="1937.86" y="1623.67" font-size="94.08">)</tspan></text>
</g>
<g id="panel-labels" filter="url(#crisp)">
<text id="t35" font-weight="bold" font-style="normal" font-size="70.00"><tspan x="234.05" y="136.72" font-size="67.20">(</tspan><tspan x="256.89" y="139.10" font-size="70.00">a</tspan><tspan x="292.36" y="136.72" font-size="67.20">)</tspan></text>
<text id="t36" font-weight="bold" font-style="normal" font-size="85.00"><tspan x="382.74" y="151.90" font-size="85.00">p</tspan><tspan x="429.31" y="185.90" font-size="62.20">T</tspan> <tspan x="489.29" y="161.00" font-size="92.22">=</tspan> <tspan x="560.07" y="151.90" font-size="88.82">1</tspan> <tspan x="623.62" y="151.90" font-size="87.97">G</tspan><tspan x="690.90" y="151.90" font-size="85.00">e</tspan><tspan x="727.55" y="151.90" font-size="87.97">V</tspan></text>
<text id="t37" font-weight="bold" font-style="normal" font-size="70.00"><tspan x="896.85" y="135.02" font-size="67.20">(</tspan><tspan x="919.69" y="137.40" font-size="70.00">b</tspan><tspan x="959.09" y="135.02" font-size="67.20">)</tspan></text>
<text id="t38" font-weight="bold" font-style="normal" font-size="85.00"><tspan x="1045.64" y="156.70" font-size="85.00">p</tspan><tspan x="1092.21" y="190.70" font-size="62.20">T</tspan> <tspan x="1152.19" y="165.79" font-size="92.22">=</tspan> <tspan x="1222.97" y="156.70" font-size="88.82">2</tspan> <tspan x="1286.52" y="156.70" font-size="87.97">G</tspan><tspan x="1353.80" y="156.70" font-size="85.00">e</tspan><tspan x="1390.45" y="156.70" font-size="87.97">V</tspan></text>
<text id="t39" font-weight="bold" font-style="normal" font-size="70.00"><tspan x="1575.85" y="131.82" font-size="67.20">(</tspan><tspan x="1598.69" y="134.20" font-size="70.00">c</tspan><tspan x="1630.23" y="131.82" font-size="67.20">)</tspan></text>
<text id="t40" font-weight="bold" font-style="normal" font-size="85.00"><tspan x="1721.54" y="146.30" font-size="85.00">p</tspan><tspan x="1768.11" y="180.30" font-size="62.20">T</tspan> <tspan x="1828.09" y="155.40" font-size="92.22">=</tspan> <tspan x="1898.87" y="146.30" font-size="88.82">3</tspan> <tspan x="1962.42" y="146.30" font-size="87.97">G</tspan><tspan x="2029.70" y="146.30" font-size="85.00">e</tspan><tspan x="2066.35" y="146.30" font-size="87.97">V</tspan></text>
<text id="t41" font-weight="bold" font-style="normal" font-size="70.00"><tspan x="215.75" y="844.82" font-size="67.20">(</tspan><tspan x="238.59" y="847.20" font-size="70.00">d</tspan><tspan x="277.99" y="844.82" font-size="67.20">)</tspan></text>
<text id="t42" font-weight="bold" font-style="normal" font-size="85.00"><tspan x="374.34" y="864.50" font-size="85.00">p</tspan><tspan x="420.91" y="898.50" font-size="62.20">T</tspan> <tspan x="480.89" y="873.60" font-size="92.22">=</tspan> <tspan x="551.67" y="864.50" font-size="88.82">4</tspan> <tspan x="615.22" y="864.50" font-size="87.97">G</tspan><tspan x="682.50" y="864.50" font-size="85.00">e</tspan><tspan x="719.15" y="864.50" font-size="87.97">V</tspan></text>
<text id="t43" font-weight="bold" font-style="normal" font-size="70.00"><tspan x="891.75" y="842.92" font-size="67.20">(</tspan><tspan x="914.59" y="845.30" font-size="70.00">e</tspan><tspan x="946.13" y="842.92" font-size="67.20">)</tspan></text>
<text id="t44" font-weight="bold" font-style="normal" font-size="85.00"><tspan x="1055.24" y="856.60" font-size="85.00">p</tspan><tspan x="1101.81" y="890.60" font-size="62.20">T</tspan> <tspan x="1161.79" y="865.70" font-size="92.22">=</tspan> <tspan x="1232.57" y="856.60" font-size="88.82">5</tspan> <tspan x="1296.12" y="856.60" font-size="87.97">G</tspan><tspan x="1363.40" y="856.60" font-size="85.00">e</tspan><tspan x="1400.05" y="856.60" font-size="87.97">V</tspan></text>
<text id="t45" font-weight="bold" font-style="normal" font-size="70.00"><tspan x="1573.15" y="844.82" font-size="67.20">(</tspan><tspan x="1595.99" y="847.20" font-size="70.00">f</tspan><tspan x="1619.77" y="844.82" font-size="67.20">)</tspan></text>
<text id="t46" font-weight="bold" font-style="normal" font-size="85.00"><tspan x="1719.44" y="846.80" font-size="85.00">p</tspan><tspan x="1766.01" y="880.80" font-size="62.20">T</tspan> <tspan x="1825.99" y="855.89" font-size="92.22">=</tspan> <tspan x="1896.77" y="846.80" font-size="88.82">6</tspan> <tspan x="1960.32" y="846.80" font-size="87.97">G</tspan><tspan x="2027.60" y="846.80" font-size="85.00">e</tspan><tspan x="2064.25" y="846.80" font-size="87.97">V</tspan></text>
</g>
<g id="annotations" filter="url(#crisp)">
<text id="t47" font-weight="bold" font-style="normal" font-size="85.00"><tspan x="1145.33" y="253.10" font-size="87.97">A</tspan><tspan x="1207.78" y="253.10" font-size="85.00">u</tspan><tspan x="1253.00" y="262.19" font-size="92.22">+</tspan><tspan x="1302.42" y="253.10" font-size="87.97">A</tspan><tspan x="1364.88" y="253.10" font-size="85.00">u</tspan></text>
<text id="t_at" x="1418.0" y="240.8" font-style="italic" font-size="72">@</text>
<text id="t48" font-weight="bold" font-style="normal" font-size="85.00"><tspan x="1531.74" y="253.10" font-size="88.82">2</tspan><tspan x="1574.24" y="253.10" font-size="88.82">0</tspan><tspan x="1616.74" y="253.10" font-size="88.82">0</tspan><tspan x="1659.13" y="253.10" font-size="87.97">A</tspan> <tspan x="1741.68" y="253.10" font-size="87.97">G</tspan><tspan x="1808.95" y="253.10" font-size="85.00">e</tspan><tspan x="1845.60" y="253.10" font-size="87.97">V</tspan></text>
<text id="t49" font-weight="bold" font-style="normal" font-size="56.90"><tspan x="1300.96" y="316.00" font-size="59.46">2</tspan><tspan x="1329.41" y="316.00" font-size="59.46">0</tspan><tspan x="1358.50" y="316.00" font-size="56.90">-</tspan><tspan x="1376.81" y="316.00" font-size="59.46">4</tspan><tspan x="1405.26" y="316.00" font-size="59.46">0</tspan></text>
<text id="t_pct" x="1438.6" y="316.0" font-style="italic" font-size="59">%</text>
<text id="t50" font-weight="bold" font-style="normal" font-size="56.90"><tspan x="1519.28" y="316.20" font-size="58.89">C</tspan><tspan x="1561.09" y="316.20" font-size="56.90">e</tspan><tspan x="1586.35" y="316.20" font-size="56.90">n</tspan><tspan x="1617.99" y="316.20" font-size="56.90">t</tspan><tspan x="1636.94" y="316.20" font-size="56.90">r</tspan><tspan x="1662.19" y="316.20" font-size="56.90">a</tspan><tspan x="1690.64" y="316.20" font-size="56.90">l</tspan><tspan x="1706.45" y="316.20" font-size="56.90">i</tspan><tspan x="1722.26" y="316.20" font-size="56.90">t</tspan><tspan x="1741.21" y="316.20" font-size="56.90">y</tspan> <tspan x="1783.88" y="316.20" font-size="56.90">b</tspan><tspan x="1815.53" y="316.20" font-size="56.90">i</tspan><tspan x="1831.34" y="316.20" font-size="56.90">n</tspan></text>
</g>
<g id="legend">
<rect x="1764.5" y="924.5" width="343.0" height="310.8" fill="#fff" stroke="#000" stroke-width="7.2"/>
<line x1="1778.00" y1="964.50" x2="1902.00" y2="964.50" stroke="#000" stroke-width="9.1" />
<line x1="1773.00" y1="1066.50" x2="1897.00" y2="1066.50" stroke="#ff0000" stroke-width="9.1" stroke-dasharray="9 21 39 22 9 21"/>
<line x1="1773.00" y1="1180.50" x2="1897.00" y2="1180.50" stroke="#0000ff" stroke-width="9.1" stroke-dasharray="39 22"/>
<g id="legend-text" filter="url(#crisp)">
<text id="t51" font-weight="bold" font-style="normal" font-size="57.00"><tspan x="1958.50" y="972.30" font-size="57.00">v</tspan><tspan x="1986.55" y="994.53" font-size="42.11">2</tspan><tspan x="2006.67" y="972.76" font-size="60.42">/</tspan><tspan x="2022.99" y="972.30" font-size="57.00">v</tspan><tspan x="2051.03" y="994.53" font-size="42.11">3</tspan></text>
<text id="t52" font-weight="bold" font-style="normal" font-size="57.00"><tspan x="1929.50" y="1080.00" font-size="57.00">v</tspan><tspan x="1957.55" y="1102.23" font-size="42.11">2</tspan><tspan x="1977.60" y="1045.80" font-size="41.71">Q</tspan><tspan x="2009.02" y="1080.46" font-size="60.42">/</tspan><tspan x="2025.33" y="1080.00" font-size="57.00">v</tspan><tspan x="2053.38" y="1102.23" font-size="42.11">3</tspan><tspan x="2073.43" y="1045.80" font-size="41.71">Q</tspan></text>
<text id="t53" font-weight="bold" font-style="normal" font-size="57.00"><tspan x="1926.50" y="1204.00" font-size="57.00">v</tspan><tspan x="1954.55" y="1226.23" font-size="42.11">2</tspan><tspan x="1974.60" y="1169.80" font-size="41.71">H</tspan><tspan x="2006.02" y="1204.46" font-size="60.42">/</tspan><tspan x="2022.33" y="1204.00" font-size="57.00">v</tspan><tspan x="2050.38" y="1226.23" font-size="42.11">3</tspan><tspan x="2070.43" y="1169.80" font-size="41.71">H</tspan></text>
</g>
</g>
</svg>
</body></html>
